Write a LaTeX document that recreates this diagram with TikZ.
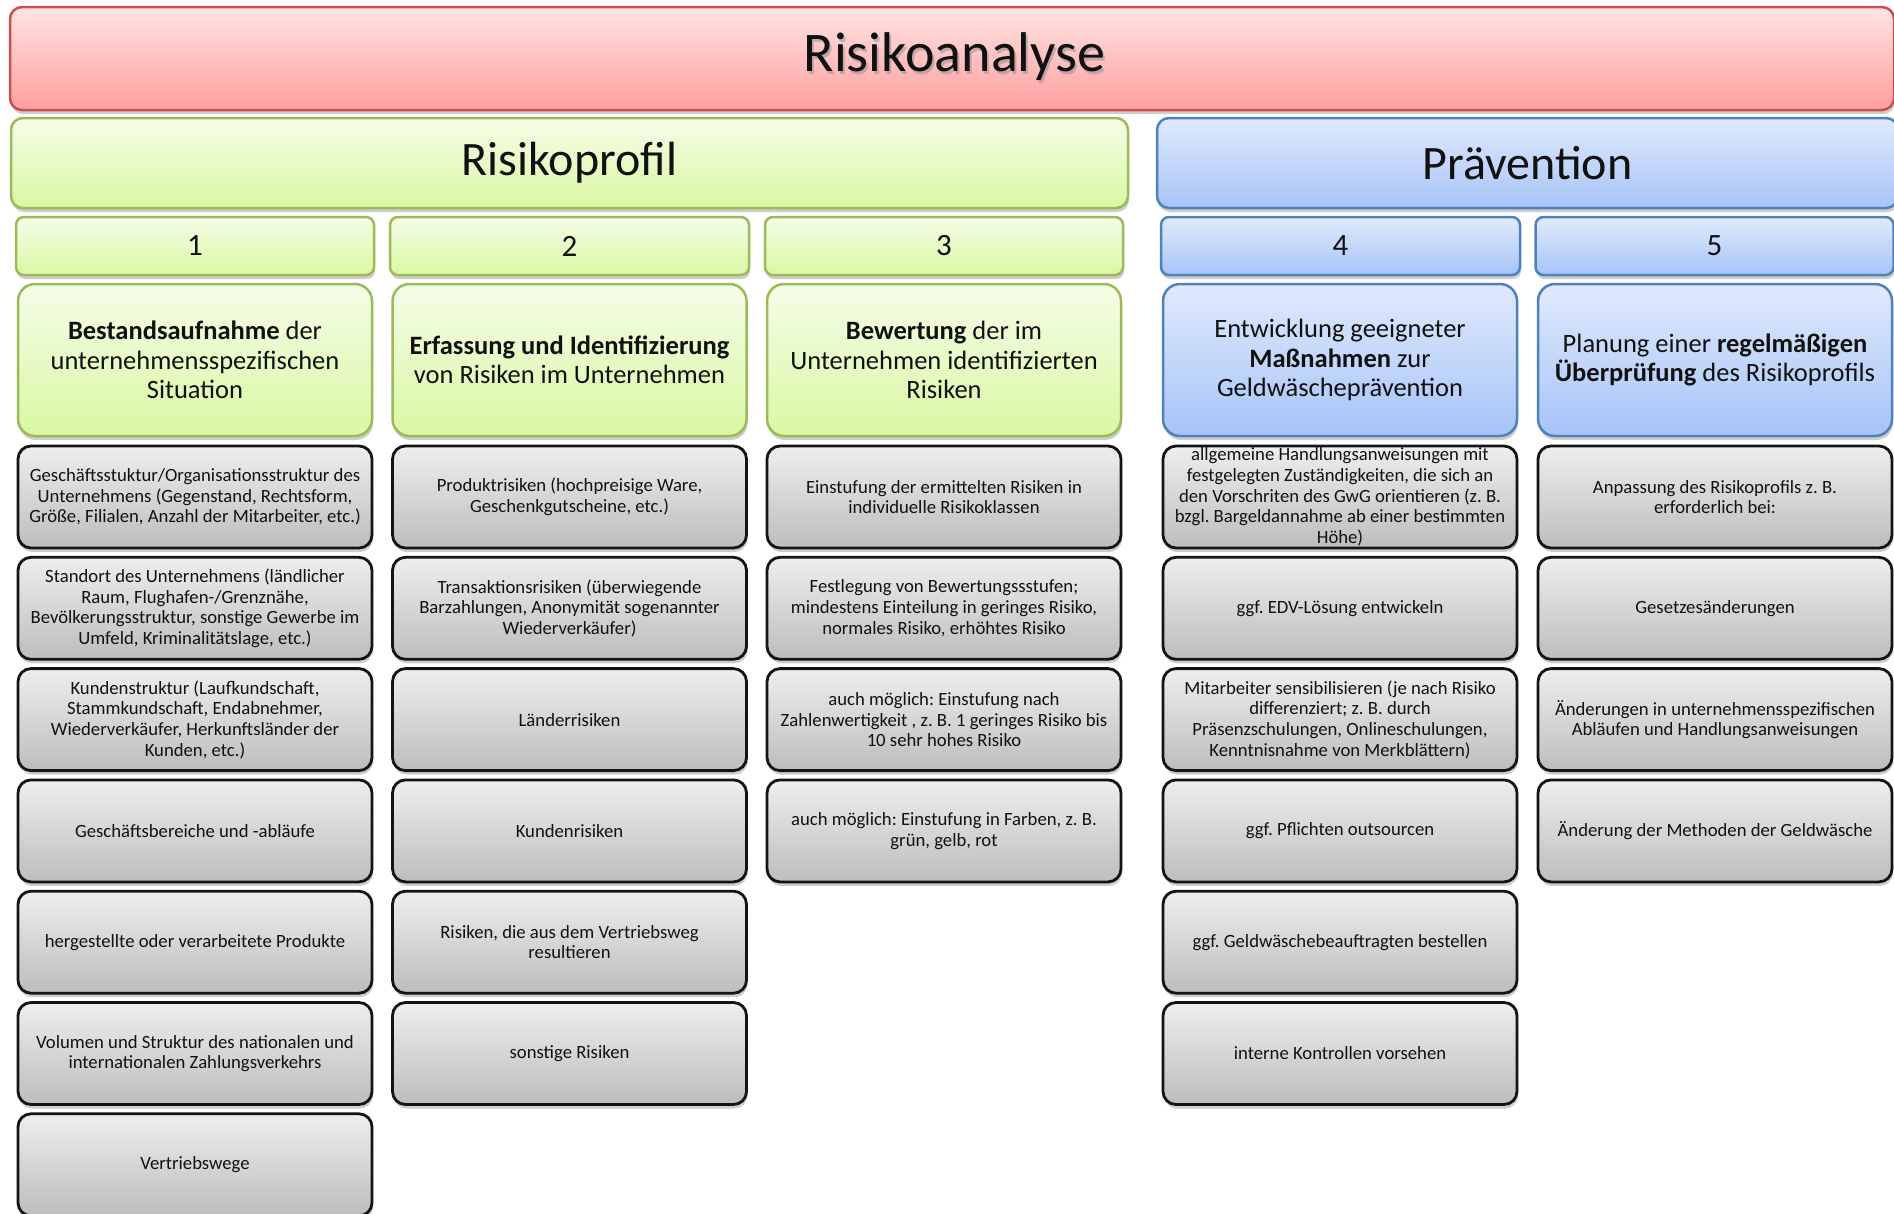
\documentclass[tikz,border=0pt]{standalone}
\usepackage{fontspec}
\setmainfont{Carlito}
\frenchspacing
\usetikzlibrary{shadows}
\definecolor{redtop}{HTML}{FFE4E4}
\definecolor{redbot}{HTML}{FF9E9E}
\definecolor{redline}{HTML}{C9504D}
\definecolor{greentop}{HTML}{F5FDE9}
\definecolor{greenbot}{HTML}{D9F8A2}
\definecolor{greenline}{HTML}{9BBB59}
\definecolor{bluetop}{HTML}{E0EAFC}
\definecolor{bluebot}{HTML}{A6C4F7}
\definecolor{blueline}{HTML}{4F81BD}
\definecolor{graytop}{HTML}{EEEEEE}
\definecolor{graybot}{HTML}{BDBDBD}
\definecolor{grayline}{HTML}{141414}
\definecolor{txt}{HTML}{111111}
\tikzset{
  softshadow/.style={drop shadow={shadow xshift=1pt,shadow yshift=-4pt,opacity=0.28,fill=black!70}},
  basebox/.style={align=center,inner sep=0pt,text=txt,softshadow},
  titlebox/.style={basebox,rounded corners=12pt,draw=redline,line width=2.5pt,top color=redtop,bottom color=redbot},
  grnbar/.style={basebox,rounded corners=12pt,draw=greenline,line width=2.5pt,top color=greentop,bottom color=greenbot,font=\fontsize{48}{52}\selectfont},
  blubar/.style={basebox,rounded corners=12pt,draw=blueline,line width=2.5pt,top color=bluetop,bottom color=bluebot,font=\fontsize{48}{52}\selectfont},
  grnnum/.style={basebox,rounded corners=8pt,draw=greenline,line width=2.5pt,top color=greentop,bottom color=greenbot,minimum height=58pt,font=\fontsize{31}{34}\selectfont},
  blunum/.style={basebox,rounded corners=8pt,draw=blueline,line width=2.5pt,top color=bluetop,bottom color=bluebot,minimum height=58pt,font=\fontsize{31}{34}\selectfont},
  grnhead/.style={basebox,rounded corners=17pt,draw=greenline,line width=2.5pt,top color=greentop,bottom color=greenbot,minimum width=354pt,minimum height=152pt,font=\fontsize{26.5}{29.5}\selectfont},
  bluhead/.style={basebox,rounded corners=17pt,draw=blueline,line width=2.5pt,top color=bluetop,bottom color=bluebot,minimum width=354pt,minimum height=152pt,font=\fontsize{26.5}{29.5}\selectfont},
  graybox/.style={basebox,rounded corners=13pt,draw=grayline,line width=2.8pt,top color=graytop,bottom color=graybot,minimum width=354pt,minimum height=102pt,font=\fontsize{18.7}{20.7}\selectfont},
  titletxt/.style={inner sep=0pt,font=\fontsize{56}{60}\selectfont},
}
\begin{document}
\begin{tikzpicture}[x=1pt,y=-1pt]
\useasboundingbox (0,0) rectangle (1894,1213);
\fill[white] (0,0) rectangle (1894,1213);

% title
\node[titlebox,minimum width=1884pt,minimum height=103pt] (title) at (952,58.5) {};
\node[titletxt,text=black!45,opacity=0.5] (titleshadow) at (956.5,59.5) {Risikoanalyse};
\node[titletxt,text=txt] (titletext) at (954.5,57) {Risikoanalyse};

% section bars
\node[grnbar,minimum width=1117pt,minimum height=90pt] (profil) at (569.5,163) {Risikoprofil};
\node[blubar,minimum width=741pt,minimum height=90pt] (praev) at (1527.5,163) {Prävention};

% numbers
\node[grnnum,minimum width=358pt] (n1) at (195,246) {1};
\node[grnnum,minimum width=359pt] (n2) at (569.5,246) {2};
\node[grnnum,minimum width=358pt] (n3) at (944,246) {3};
\node[blunum,minimum width=359pt] (n4) at (1340.5,246) {4};
\node[blunum,minimum width=358pt] (n5) at (1714.5,246) {5};

% headers
\node[grnhead] (h1) at (195,360) {\textbf{Bestandsaufnahme} der\\unternehmensspezifischen\\Situation};
\node[grnhead] (h2) at (569.5,360) {\textbf{Erfassung und Identifizierung}\\von Risiken im Unternehmen};
\node[grnhead] (h3) at (944,360) {\textbf{Bewertung} der im\\Unternehmen identifizierten\\Risiken};
\node[bluhead] (h4) at (1340,360) {Entwicklung geeigneter\\\textbf{Maßnahmen} zur\\Geldwäscheprävention};
\node[bluhead] (h5) at (1715,360) {Planung einer \textbf{regelmäßigen}\\\textbf{Überprüfung} des Risikoprofils};

% column 1
\node[graybox] (a1) at (195,497) {Geschäftsstuktur/Organisationsstruktur des\\Unternehmens (Gegenstand, Rechtsform,\\Größe, Filialen, Anzahl der Mitarbeiter, etc.)};
\node[graybox] (a2) at (195,608.3) {Standort des Unternehmens (ländlicher\\Raum, Flughafen-/Grenznähe,\\Bevölkerungsstruktur, sonstige Gewerbe im\\Umfeld, Kriminalitätslage, etc.)};
\node[graybox] (a3) at (195,719.6) {Kundenstruktur (Laufkundschaft,\\Stammkundschaft, Endabnehmer,\\Wiederverkäufer, Herkunftsländer der\\Kunden, etc.)};
\node[graybox] (a4) at (195,830.9) {Geschäftsbereiche und -abläufe};
\node[graybox] (a5) at (195,942.2) {hergestellte oder verarbeitete Produkte};
\node[graybox] (a6) at (195,1053.5) {Volumen und Struktur des nationalen und\\internationalen Zahlungsverkehrs};
\node[graybox] (a7) at (195,1164.8) {Vertriebswege};

% column 2
\node[graybox] (b1) at (569.5,497) {Produktrisiken (hochpreisige Ware,\\Geschenkgutscheine, etc.)};
\node[graybox] (b2) at (569.5,608.3) {Transaktionsrisiken (überwiegende\\Barzahlungen, Anonymität sogenannter\\Wiederverkäufer)};
\node[graybox] (b3) at (569.5,719.6) {Länderrisiken};
\node[graybox] (b4) at (569.5,830.9) {Kundenrisiken};
\node[graybox] (b5) at (569.5,942.2) {Risiken, die aus dem Vertriebsweg\\resultieren};
\node[graybox] (b6) at (569.5,1053.5) {sonstige Risiken};

% column 3
\node[graybox] (c1) at (944,497) {Einstufung der ermittelten Risiken in\\individuelle Risikoklassen};
\node[graybox] (c2) at (944,608.3) {Festlegung von Bewertungssstufen;\\mindestens Einteilung in geringes Risiko,\\normales Risiko, erhöhtes Risiko};
\node[graybox] (c3) at (944,719.6) {auch möglich: Einstufung nach\\Zahlenwertigkeit , z. B. 1 geringes Risiko bis\\10 sehr hohes Risiko};
\node[graybox] (c4) at (944,830.9) {auch möglich: Einstufung in Farben, z. B.\\grün, gelb, rot};

% column 4
\node[graybox] (d1) at (1340,497) {allgemeine Handlungsanweisungen mit\\festgelegten Zuständigkeiten, die sich an\\den Vorschriten des GwG orientieren (z. B.\\bzgl. Bargeldannahme ab einer bestimmten\\Höhe)};
\node[graybox] (d2) at (1340,608.3) {ggf. EDV-Lösung entwickeln};
\node[graybox] (d3) at (1340,719.6) {Mitarbeiter sensibilisieren (je nach Risiko\\differenziert; z. B. durch\\Präsenzschulungen, Onlineschulungen,\\Kenntnisnahme von Merkblättern)};
\node[graybox] (d4) at (1340,830.9) {ggf. Pflichten outsourcen};
\node[graybox] (d5) at (1340,942.2) {ggf. Geldwäschebeauftragten bestellen};
\node[graybox] (d6) at (1340,1053.5) {interne Kontrollen vorsehen};

% column 5
\node[graybox] (e1) at (1715,497) {Anpassung des Risikoprofils z. B.\\erforderlich bei:};
\node[graybox] (e2) at (1715,608.3) {Gesetzesänderungen};
\node[graybox] (e3) at (1715,719.6) {Änderungen in unternehmensspezifischen\\Abläufen und Handlungsanweisungen};
\node[graybox] (e4) at (1715,830.9) {Änderung der Methoden der Geldwäsche};
\end{tikzpicture}
\end{document}
